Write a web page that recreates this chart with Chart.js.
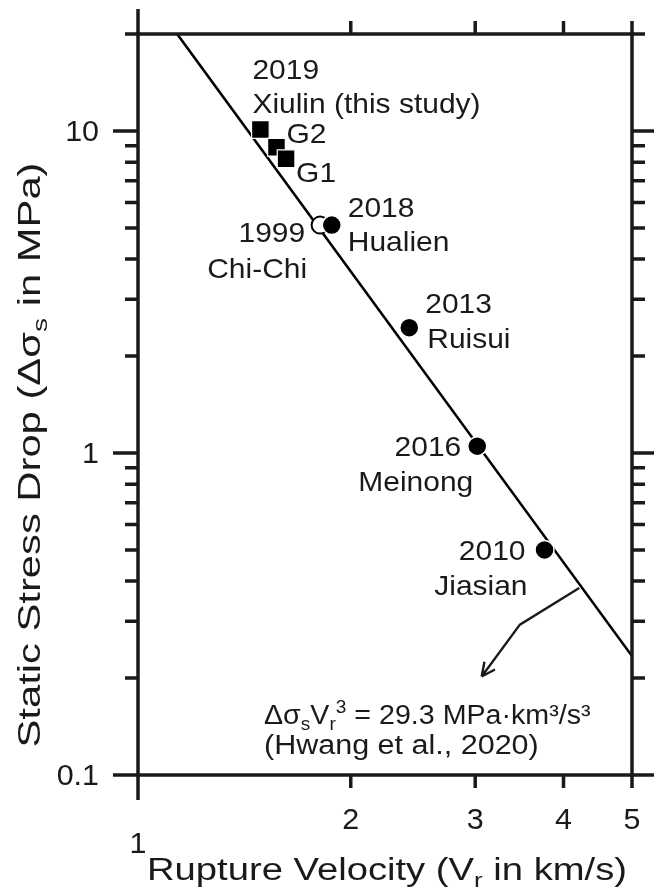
<!DOCTYPE html>
<html>
<head>
<meta charset="utf-8">
<script src="https://cdn.jsdelivr.net/npm/chart.js@4.4.1/dist/chart.umd.min.js"></script>
<style>
  html, body { margin: 0; padding: 0; background: #fff; }
  #wrap { width: 654px; height: 894px; }
</style>
</head>
<body>
<div id="wrap"><canvas id="chart" width="654" height="894"></canvas></div>
<script>
// rupture velocity (km/s) vs static stress drop (MPa)
const xiulinVr = [1.49, 1.57, 1.62];
const xiulinDrop = [10.1, 8.9, 8.2];

const eventNames = ['Chi-Chi', 'Hualien', 'Ruisui', 'Meinong', 'Jiasian'];
const eventYears = ['1999', '2018', '2013', '2016', '2010'];
const eventVr = [1.81, 1.88, 2.42, 3.02, 3.76];
const eventDrop = [5.1, 5.1, 2.45, 1.05, 0.5];

// Hwang et al. (2020) line, where it enters and leaves the frame
const fitVr = [1.136, 5];
const fitDrop = [20, 0.234];

const xTicks = [1, 2, 3, 4, 5];
const xTickLabels = ['1', '2', '3', '4', '5'];
const yTicks = [0.1, 1, 10];
const yTickLabels = ['0.1', '1', '10'];
const yMinorTicks = [0.2, 0.3, 0.4, 0.5, 0.6, 0.7, 0.8, 0.9, 2, 3, 4, 5, 6, 7, 8, 9, 20];

// arrow from the line down to the equation (data coords)
const arrowVr = [4.21, 3.47, 3.064];
const arrowDrop = [0.381, 0.293, 0.2022];

const FONT = '"Liberation Sans", Arial, sans-serif';
const INK = '#1a1a1a';

function pts(xs, ys) {
  return xs.map((x, i) => ({ x: x, y: ys[i] }));
}

function measureRich(ctx, parts, size) {
  let w = 0;
  parts.forEach(([t, m]) => {
    ctx.font = (m ? Math.round(size * 0.68) : size) + 'px ' + FONT;
    w += ctx.measureText(t).width;
  });
  return w;
}

// text with sub/superscripts, stretched horizontally by sx
function drawRich(ctx, parts, x, y, size, align, sx) {
  const w = measureRich(ctx, parts, size);
  ctx.save();
  ctx.translate(x, y);
  ctx.scale(sx, 1);
  let cx = align === 'right' ? -w : align === 'center' ? -w / 2 : 0;
  ctx.textAlign = 'left';
  ctx.textBaseline = 'alphabetic';
  ctx.fillStyle = INK;
  parts.forEach(([t, m]) => {
    ctx.font = (m ? Math.round(size * 0.68) : size) + 'px ' + FONT;
    const dy = m === 'sub' ? size * 0.22 : m === 'sup' ? -size * 0.4 : 0;
    ctx.fillText(t, cx, dy);
    cx += ctx.measureText(t).width;
  });
  ctx.restore();
}

// labels placed next to their points: [x, y, text, dx, dy, align]
function pointLabels() {
  const L = [
    [xiulinVr[0], xiulinDrop[0], '2019', -8, -51, 'left'],
    [xiulinVr[0], xiulinDrop[0], 'Xiulin (this study)', -8, -17, 'left'],
    [xiulinVr[1], xiulinDrop[1], 'G2', 10, -4, 'left'],
    [xiulinVr[2], xiulinDrop[2], 'G1', 10, 23, 'left'],
  ];
  const place = [
    [[-15, 17, 'right'], [-13, 53, 'right']],  // Chi-Chi
    [[16, -8, 'left'], [16, 26, 'left']],      // Hualien
    [[16, -15, 'left'], [18, 20, 'left']],     // Ruisui
    [[-16, 10, 'right'], [-4, 45, 'right']],   // Meinong
    [[-19, 10, 'right'], [-17, 45, 'right']],  // Jiasian
  ];
  eventNames.forEach((n, i) => {
    const p = place[i];
    L.push([eventVr[i], eventDrop[i], eventYears[i], p[0][0], p[0][1], p[0][2]]);
    L.push([eventVr[i], eventDrop[i], n, p[1][0], p[1][1], p[1][2]]);
  });
  return L;
}

const framePlugin = {
  id: 'frame',
  afterDatasetsDraw(chart) {
    const ctx = chart.ctx;
    const a = chart.chartArea;
    const xs = chart.scales.x, ys = chart.scales.y;
    const MAJ = 25, MIN = 13;
    ctx.save();
    ctx.strokeStyle = INK;
    ctx.lineWidth = 3.5;
    ctx.lineCap = 'butt';
    ctx.strokeRect(a.left, a.top, a.right - a.left, a.bottom - a.top);

    ctx.beginPath();
    xTicks.forEach(v => {
      const px = xs.getPixelForValue(v);
      const len = v === 1 ? MAJ : MIN;
      ctx.moveTo(px, a.bottom); ctx.lineTo(px, a.bottom + len);
      ctx.moveTo(px, a.top); ctx.lineTo(px, a.top - len);
    });
    yTicks.concat(yMinorTicks).forEach(v => {
      const py = ys.getPixelForValue(v);
      const len = yTicks.includes(v) ? MAJ : MIN;
      ctx.moveTo(a.left, py); ctx.lineTo(a.left - len, py);
      ctx.moveTo(a.right, py); ctx.lineTo(a.right + len, py);
    });
    ctx.stroke();

    // arrow
    const ap = arrowVr.map((v, i) => [xs.getPixelForValue(v), ys.getPixelForValue(arrowDrop[i])]);
    ctx.lineWidth = 2.4;
    ctx.beginPath();
    ap.forEach((p, i) => i ? ctx.lineTo(p[0], p[1]) : ctx.moveTo(p[0], p[1]));
    const tip = ap[ap.length - 1], prev = ap[ap.length - 2];
    const ang = Math.atan2(tip[1] - prev[1], tip[0] - prev[0]);
    [-0.45, 0.45].forEach(d => {
      ctx.moveTo(tip[0], tip[1]);
      ctx.lineTo(tip[0] - 15 * Math.cos(ang + d), tip[1] - 15 * Math.sin(ang + d));
    });
    ctx.stroke();
    ctx.restore();
  },
  afterDraw(chart) {
    const ctx = chart.ctx;
    const a = chart.chartArea;
    const xs = chart.scales.x, ys = chart.scales.y;

    // tick labels
    xTicks.forEach((v, i) => {
      const px = xs.getPixelForValue(v);
      drawRich(ctx, [[xTickLabels[i], '']], px, v === 1 ? 853 : 829, 29, 'center', 1.05);
    });
    yTicks.forEach((v, i) => {
      const py = ys.getPixelForValue(v);
      drawRich(ctx, [[yTickLabels[i], '']], 99, py + 10, 29, 'right', 1.05);
    });

    // point labels
    pointLabels().forEach(([x, y, t, dx, dy, al]) => {
      drawRich(ctx, [[t, '']], xs.getPixelForValue(x) + dx, ys.getPixelForValue(y) + dy, 28, al, 1.07);
    });

    // equation
    drawRich(ctx, [['\u0394\u03c3', ''], ['s', 'sub'], ['V', ''], ['r', 'sub'], ['3', 'sup'],
      [' = 29.3 MPa\u00b7km\u00b3/s\u00b3', '']], a.left + 126, 724, 27, 'left', 1.06);
    drawRich(ctx, [['(Hwang et al., 2020)', '']], a.left + 126, 754, 27, 'left', 1.13);

    // axis titles
    const xt = [['Rupture Velocity (V', ''], ['r', 'sub'], [' in km/s)', '']];
    const xw = measureRich(ctx, xt, 31);
    drawRich(ctx, xt, 147, 880, 31, 'left', 480 / xw);

    const yt = [['Static Stress Drop (\u0394\u03c3', ''], ['s', 'sub'], [' in MPa)', '']];
    const yw = measureRich(ctx, yt, 31);
    ctx.save();
    ctx.translate(40, 455);
    ctx.rotate(-Math.PI / 2);
    drawRich(ctx, yt, 0, 0, 31, 'center', 585 / yw);
    ctx.restore();
  }
};

new Chart(document.getElementById('chart'), {
  type: 'scatter',
  data: {
    datasets: [
      {
        label: 'Xiulin',
        data: pts(xiulinVr, xiulinDrop),
        pointStyle: 'rect',
        pointRadius: 12.5,
        backgroundColor: '#000',
        borderColor: '#fff',
        borderWidth: 1.2,
        order: 1
      },
      {
        label: 'Events',
        data: pts(eventVr.slice(1), eventDrop.slice(1)),
        pointStyle: 'circle',
        pointRadius: 9.5,
        backgroundColor: '#000',
        borderColor: '#fff',
        borderWidth: 1.5,
        order: 2
      },
      {
        label: 'Chi-Chi',
        data: pts(eventVr.slice(0, 1), eventDrop.slice(0, 1)),
        pointStyle: 'circle',
        pointRadius: 8.5,
        backgroundColor: '#fff',
        borderColor: '#000',
        borderWidth: 2,
        order: 3
      },
      {
        type: 'line',
        label: 'Hwang et al. 2020',
        data: pts(fitVr, fitDrop),
        borderColor: '#000',
        borderWidth: 2.6,
        pointRadius: 0,
        fill: false,
        order: 4
      }
    ]
  },
  options: {
    responsive: false,
    animation: false,
    layout: { padding: { left: 138, right: 22, top: 34, bottom: 119 } },
    plugins: { legend: { display: false }, tooltip: { enabled: false } },
    scales: {
      x: { type: 'logarithmic', min: 1, max: 5, display: false },
      y: { type: 'logarithmic', min: 0.1, max: 20, display: false }
    }
  },
  plugins: [framePlugin]
});
</script>
</body>
</html>
